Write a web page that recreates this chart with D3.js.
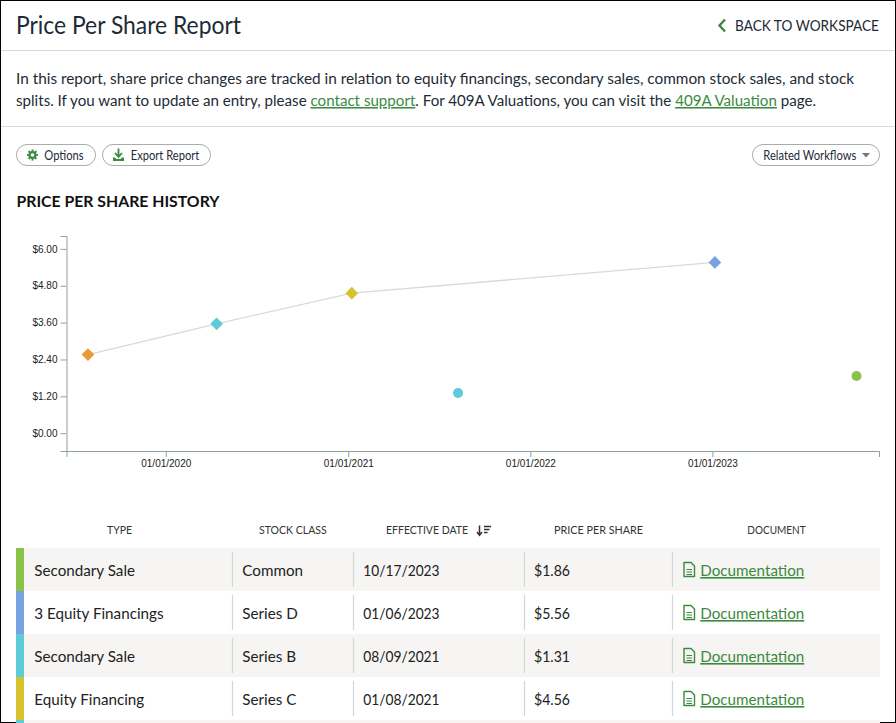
<!DOCTYPE html>
<html>
<head>
<meta charset="utf-8">
<script src="https://cdn.jsdelivr.net/npm/d3@7/dist/d3.min.js"></script>
<style>
  html, body { margin: 0; padding: 0; background: #fff; overflow: hidden; }
  svg { display: block; font-family: Lato, "Noto Sans", sans-serif; }
  .axis text { font-family: "Liberation Sans", Arial, sans-serif; font-size: 10px; fill: #222; }
  .axis path, .axis line { stroke: #8fa0a0; }
</style>
</head>
<body>
<script>
// ---------- data ----------
const eventDates   = ["2023-10-17", "2023-01-06", "2021-08-09", "2021-01-08", "2020-04-12", "2019-07-29"];
const eventTypes   = ["Secondary Sale", "3 Equity Financings", "Secondary Sale", "Equity Financing", "Equity Financing", "Equity Financing"];
const stockClasses = ["Common", "Series D", "Series B", "Series C", "Series B", "Series A"];
const prices       = [1.86, 5.56, 1.31, 4.56, 3.56, 2.56];
const classNames   = ["Common", "Series D", "Series B", "Series C", "Series A"];
const classColors  = ["#8bc34a", "#79a2e3", "#5ecbd8", "#d6c22e", "#e89a33"];
const yTicks       = [0, 1.2, 2.4, 3.6, 4.8, 6.0];
const xTickDates   = ["2020-01-01", "2021-01-01", "2022-01-01", "2023-01-01"];
const xDomain      = ["2019-06-16", "2023-12-01"];
const yDomain      = [-0.58, 6.42];
const headers      = ["TYPE", "STOCK CLASS", "EFFECTIVE DATE", "PRICE PER SHARE", "DOCUMENT"];

// ---------- setup ----------
const parse = d3.timeParse("%Y-%m-%d");
const fmtDate = d3.timeFormat("%m/%d/%Y");
const fmtPrice = d => "$" + d.toFixed(2);
const color = d3.scaleOrdinal().domain(classNames).range(classColors);
const rows = eventDates.map((d, i) => ({
  date: parse(d), type: eventTypes[i], cls: stockClasses[i], price: prices[i],
  financing: /Financing/.test(eventTypes[i])
}));

const W = 896, H = 723;
const green = "#3b8a3e", ink = "#1d2b36";
const svg = d3.select("body").append("svg").attr("width", W).attr("height", H);

// squeeze Lato toward the narrower look of the original face
function fit(sel, w) { return sel.attr("textLength", w).attr("lengthAdjust", "spacingAndGlyphs"); }
function squeeze(sel, k) {
  sel.each(function () {
    const n = this.getComputedTextLength();
    d3.select(this).attr("textLength", n * k).attr("lengthAdjust", "spacingAndGlyphs");
  });
  return sel;
}

svg.append("rect").attr("x", 0.5).attr("y", 0.5).attr("width", W - 1).attr("height", H - 1)
  .attr("fill", "#fff").attr("stroke", "#000");

// ---------- header ----------
fit(svg.append("text").attr("x", 16).attr("y", 33.5).attr("font-size", 24.5).attr("fill", ink)
  .text("Price Per Share Report"), 225);
svg.append("path").attr("d", "M725,19.5 L719.5,25.5 L725,31.5").attr("fill", "none")
  .attr("stroke", green).attr("stroke-width", 2.4);
fit(svg.append("text").attr("x", 735).attr("y", 31).attr("font-size", 14.5)
  .attr("fill", ink).text("BACK TO WORKSPACE"), 144);
svg.append("line").attr("x1", 1).attr("x2", W - 1).attr("y1", 50.5).attr("y2", 50.5).attr("stroke", "#d3dcdc");

fit(svg.append("text").attr("x", 16).attr("y", 83.5).attr("font-size", 15.5).attr("fill", ink)
  .text("In this report, share price changes are tracked in relation to equity financings, secondary sales, common stock sales, and stock"), 838);
const p2 = svg.append("text").attr("x", 16).attr("y", 106).attr("font-size", 15.5).attr("fill", ink);
p2.append("tspan").text("splits. If you want to update an entry, please ");
p2.append("tspan").attr("fill", green).attr("text-decoration", "underline").text("contact support");
p2.append("tspan").text(". For 409A Valuations, you can visit the ");
p2.append("tspan").attr("fill", green).attr("text-decoration", "underline").text("409A Valuation");
p2.append("tspan").text(" page.");
fit(p2, 800);
svg.append("line").attr("x1", 1).attr("x2", W - 1).attr("y1", 126.5).attr("y2", 126.5).attr("stroke", "#d3dcdc");

// ---------- buttons ----------
function pill(x, w) {
  svg.append("rect").attr("x", x + 0.5).attr("y", 144.5).attr("width", w).attr("height", 21)
    .attr("rx", 10.5).attr("fill", "#fff").attr("stroke", "#a9acac");
}
pill(16, 79); pill(102, 108); pill(752, 127);
// gear
(function () {
  const cx = 32.5, cy = 155, n = 8, ro = 5.6, ri = 4.2;
  let d = "";
  for (let i = 0; i < n * 2; i++) {
    const a0 = (i / (n * 2)) * 2 * Math.PI - Math.PI / 16, a1 = ((i + 1) / (n * 2)) * 2 * Math.PI - Math.PI / 16;
    const r = i % 2 === 0 ? ro : ri;
    d += (i === 0 ? "M" : "L") + (cx + r * Math.cos(a0)) + "," + (cy + r * Math.sin(a0));
    d += "L" + (cx + r * Math.cos(a1)) + "," + (cy + r * Math.sin(a1));
  }
  svg.append("path").attr("d", d + "Z").attr("fill", green);
  svg.append("circle").attr("cx", cx).attr("cy", cy).attr("r", 1.8).attr("fill", "#fff");
})();
fit(svg.append("text").attr("x", 44.3).attr("y", 159.5).attr("font-size", 13).attr("fill", ink).text("Options"), 39.4);
// download
svg.append("path").attr("d", "M118.5,148.5 V156.5 M115,153 L118.5,156.8 L122,153").attr("fill", "none")
  .attr("stroke", green).attr("stroke-width", 1.8);
svg.append("path").attr("d", "M113,157.5 H115 L116.5,159 H120.5 L122,157.5 H124 V161 H113 Z").attr("fill", green);
fit(svg.append("text").attr("x", 130.7).attr("y", 159.5).attr("font-size", 13).attr("fill", ink).text("Export Report"), 68.6);
fit(svg.append("text").attr("x", 763.3).attr("y", 159.5).attr("font-size", 13).attr("fill", ink).text("Related Workflows"), 93);
svg.append("path").attr("d", "M862,153 H870 L866,157.5 Z").attr("fill", "#777");

fit(svg.append("text").attr("x", 16.5).attr("y", 206.5).attr("font-size", 16).attr("font-weight", 700)
  .attr("fill", "#111").text("PRICE PER SHARE HISTORY"), 203);

// ---------- chart ----------
const x = d3.scaleTime().domain(xDomain.map(parse)).range([66.5, 879]);
const y = d3.scaleLinear().domain(yDomain).range([451, 236]);

svg.append("g").attr("class", "axis").attr("transform", "translate(0,451)")
  .call(d3.axisBottom(x).tickValues(xTickDates.map(parse)).tickFormat(fmtDate).tickSize(6).tickPadding(3));
svg.append("g").attr("class", "axis").attr("transform", "translate(66.5,0)")
  .call(d3.axisLeft(y).tickValues(yTicks).tickFormat(fmtPrice).tickSize(6).tickPadding(3));

const fin = rows.filter(r => r.financing).sort((a, b) => a.date - b.date);
svg.append("path").datum(fin)
  .attr("d", d3.line().x(d => x(d.date)).y(d => y(d.price)))
  .attr("fill", "none").attr("stroke", "#d9d9d9").attr("stroke-width", 1.3);

svg.append("g").selectAll("path").data(rows.filter(r => r.financing)).join("path")
  .attr("transform", d => `translate(${x(d.date)},${y(d.price)}) rotate(45)`)
  .attr("d", d3.symbol(d3.symbolSquare, 80)())
  .attr("fill", d => color(d.cls));
svg.append("g").selectAll("circle").data(rows.filter(r => !r.financing)).join("circle")
  .attr("cx", d => x(d.date)).attr("cy", d => y(d.price)).attr("r", 5)
  .attr("fill", d => color(d.cls));

// ---------- table ----------
const headX = [107, 259, 386, 554, 747.3];
const headW = [25, 67.7, 82, 89, 58.4];
svg.append("g").selectAll("text").data(headers).join("text")
  .attr("x", (d, i) => headX[i]).attr("y", 534)
  .attr("font-size", 11.5).attr("fill", "#333")
  .attr("textLength", (d, i) => headW[i]).attr("lengthAdjust", "spacingAndGlyphs").text(d => d);
// sort icon
svg.append("path").attr("d", "M479.5,525.5 V535 M477,532 L479.5,535.2 L482,532").attr("fill", "none")
  .attr("stroke", "#333").attr("stroke-width", 1.5);
svg.append("path").attr("d", "M484,526.5 H491 M484,529.5 H489.5 M484,532.5 H487.5").attr("fill", "none")
  .attr("stroke", "#333").attr("stroke-width", 1.5);

const rowTop = 548, rowH = 43, seps = [232, 353, 524, 672];
const rg = svg.append("g").selectAll("g").data(rows).join("g")
  .attr("transform", (d, i) => `translate(0,${rowTop + i * rowH})`);
rg.append("rect").attr("x", 16).attr("width", 864).attr("height", rowH)
  .attr("fill", (d, i) => i % 2 === 0 ? "#f6f5f3" : "#fff");
rg.append("rect").attr("x", 16).attr("width", 8).attr("height", rowH).attr("fill", d => color(d.cls));
// only rows whose text line lies inside the window carry their cell contents
const vis = rg.filter((d, i) => rowTop + i * rowH + 32 < H);
seps.forEach(sx => vis.append("line").attr("x1", sx + 0.5).attr("x2", sx + 0.5).attr("y1", 4).attr("y2", 39)
  .attr("stroke", "#cfd8d8").attr("stroke-width", 1.2));
const cell = (xx, f) => vis.append("text").attr("x", xx).attr("y", 28).attr("font-size", 16).attr("fill", "#222").text(f);
squeeze(cell(34.3, d => d.type), 0.95);
squeeze(cell(242.3, d => d.cls), 0.95);
squeeze(cell(363.3, d => fmtDate(d.date)), 0.86);
squeeze(cell(534, d => fmtPrice(d.price)), 0.88);
// doc icon
vis.append("path").attr("d", "M684,14.5 H691 L694.5,18 V28.5 H684 Z").attr("fill", "none")
  .attr("stroke", green).attr("stroke-width", 1.4).attr("stroke-linejoin", "round");
vis.append("path").attr("d", "M686.5,21.5 H692 M686.5,24 H692 M686.5,26.5 H692").attr("stroke", green).attr("stroke-width", 1);
fit(vis.append("text").attr("x", 700.3).attr("y", 28).attr("font-size", 16).attr("fill", green)
  .attr("text-decoration", "underline").text("Documentation"), 104);
</script>
</body>
</html>
